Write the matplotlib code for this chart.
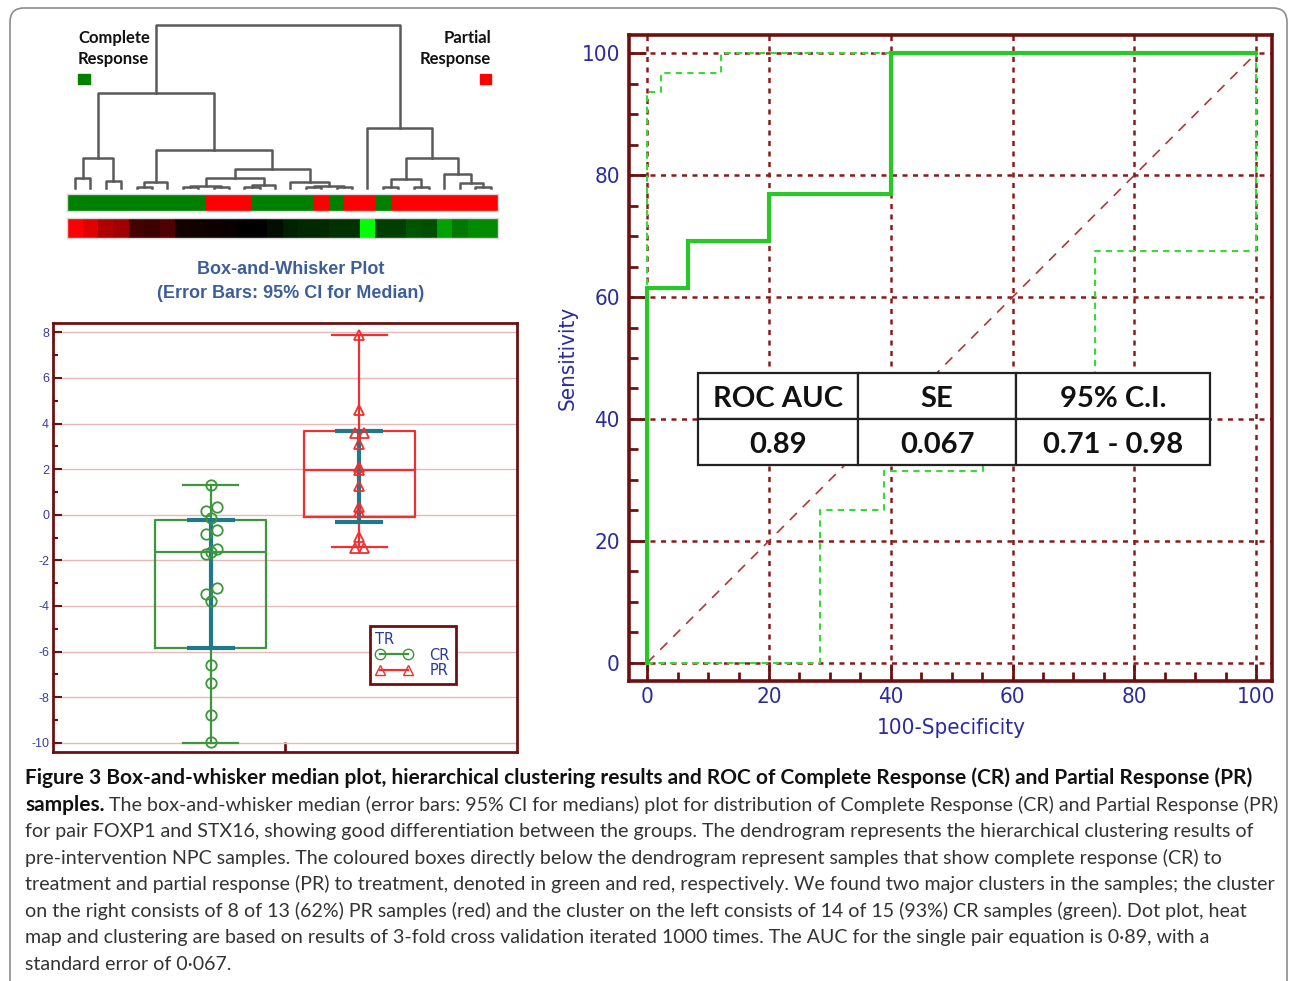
import matplotlib
matplotlib.use("Agg")
import matplotlib.pyplot as plt
import numpy as np
from matplotlib import font_manager
from matplotlib.colors import LinearSegmentedColormap, ListedColormap
from matplotlib.lines import Line2D
from matplotlib.patches import Rectangle, FancyBboxPatch

W, H = 1290, 981
plt.rcParams["axes.unicode_minus"] = False

# ---------------- data ----------------
# dendrogram merges (left, right, height); leaves are 0..27, new nodes from 28 on
merges = [
    (0, 1, 9.3), (2, 3, 6.7), (28, 29, 29.3),
    (4, 5, 1.0), (31, 6, 5.3),
    (7, 8, 0.8), (9, 10, 0.6), (33, 34, 1.5),
    (11, 12, 0.8), (36, 13, 2.3), (35, 37, 9.3),
    (15, 16, 1.0), (17, 18, 0.5), (39, 40, 1.5), (14, 41, 5.3),
    (38, 42, 18.3), (32, 43, 37.7), (30, 44, 94.3),
    (20, 21, 0.5), (22, 23, 1.0), (46, 47, 8.3),
    (26, 27, 0.5), (25, 49, 4.3), (24, 50, 13.3), (48, 51, 30.0),
    (19, 52, 59.3), (45, 53, 162.7),
]
response = ["CR"] * 9 + ["PR"] * 3 + ["CR"] * 4 + ["PR"] + ["CR"] + ["PR"] * 2 + ["CR"] + ["PR"] * 7
heat = [1.0, 0.87, 0.69, 0.63, 0.27, 0.24, 0.31, 0.08, 0.07, 0.06, 0.04, 0.0, 0.0, -0.06,
        -0.13, -0.16, -0.16, -0.19, -0.19, -1.0, -0.25, -0.25, -0.33, -0.31, -0.63, -0.47,
        -0.54, -0.54]

cr_values = [1.3, 0.35, 0.16, -0.13, -0.67, -0.85, -1.52, -1.65, -1.7, -3.23, -3.46, -3.78,
             -6.59, -7.39, -8.78, -9.98]
cr_jitter = [0, 0.04, -0.03, 0, 0.04, -0.03, 0.04, 0, -0.03, 0.04, -0.03, 0, 0, 0, 0, 0]
pr_values = [7.9, 4.6, 3.6, 3.6, 3.09, 2.1, 1.95, 1.27, 0.35, 0.1, -0.99, -1.44, -1.44]
pr_jitter = [0, 0, -0.03, 0.035, 0, 0, 0, 0, 0, 0, 0, -0.03, 0.03]
box_stats = {
    "CR": dict(med=-1.65, q1=-5.85, q3=-0.25, whislo=-10.0, whishi=1.3),
    "PR": dict(med=1.95, q1=-0.08, q3=3.65, whislo=-1.42, whishi=7.9),
}
median_ci = {"CR": (-5.85, -0.25), "PR": (-0.33, 3.69)}

roc_x = [0, 0, 6.67, 6.67, 20, 20, 40, 40, 100]
roc_y = [0, 61.5, 61.5, 69.2, 69.2, 76.9, 76.9, 100, 100]
ci_hi_x = [0, 0, 2.3, 2.3, 12.1, 12.1, 100]
ci_hi_y = [0, 93.7, 93.7, 96.8, 96.8, 100, 100]
ci_lo_x = [0, 28.4, 28.4, 38.8, 38.8, 55.1, 55.1, 66.7, 66.7, 73.5, 73.5, 100, 100]
ci_lo_y = [0, 0, 25.0, 25.0, 31.5, 31.5, 38, 38, 44, 44, 67.6, 67.6, 100]

table_head = ["ROC AUC", "SE", "95% C.I."]
table_vals = ["0.89", "0.067", "0.71 - 0.98"]

caption_bold = "Figure 3 Box-and-whisker median plot, hierarchical clustering results and ROC of Complete Response (CR) and Partial Response (PR)"
caption_lead = "samples."
caption_lines = [
    " The box-and-whisker median (error bars: 95% CI for medians) plot for distribution of Complete Response (CR) and Partial Response (PR)",
    "for pair FOXP1 and STX16, showing good differentiation between the groups. The dendrogram represents the hierarchical clustering results of",
    "pre-intervention NPC samples. The coloured boxes directly below the dendrogram represent samples that show complete response (CR) to",
    "treatment and partial response (PR) to treatment, denoted in green and red, respectively. We found two major clusters in the samples; the cluster",
    "on the right consists of 8 of 13 (62%) PR samples (red) and the cluster on the left consists of 14 of 15 (93%) CR samples (green). Dot plot, heat",
    "map and clustering are based on results of 3-fold cross validation iterated 1000 times. The AUC for the single pair equation is 0\u00b789, with a",
    "standard error of 0\u00b7067.",
]

# ---------------- styles ----------------
GREEN, RED, TEAL = "#3c963c", "#f03030", "#1e7a8a"
DARKRED = "#6e1010"
NAVY = "#2b2b9e"

ttf = font_manager.fontManager.ttflist
names = {f.name for f in ttf}
if "Liberation Sans Narrow" in names:
    narrow = dict(family="Liberation Sans Narrow")
    tick_size, lab_size = 19, 20
elif any(f.name == "DejaVu Sans" and f.stretch == "condensed" for f in ttf):
    narrow = dict(family="DejaVu Sans", stretch="condensed")
    tick_size, lab_size = 16, 16
else:
    narrow = dict(family="DejaVu Sans")
    tick_size, lab_size = 14, 14


def rect(x0, y0, x1, y1):
    return [x0 / W, 1 - y1 / H, (x1 - x0) / W, (y1 - y0) / H]


fig = plt.figure(figsize=(W / 100, H / 100), dpi=100)

# overlay for free text, border and caption (pixel coordinates)
ov = fig.add_axes([0, 0, 1, 1], zorder=0)
ov.set_xlim(0, W)
ov.set_ylim(H, 0)
ov.axis("off")
ov.add_patch(FancyBboxPatch((10, 8), 1277, 1010, boxstyle="round,pad=0,rounding_size=14",
                            fill=False, ec="#8c8c8c", lw=1.2, clip_on=False))

# ---------------- dendrogram ----------------
n = len(response)
axd = fig.add_axes(rect(67.3, 25, 498.3, 187.7), zorder=1)
pos = {i: (i + 0.5, 0.0) for i in range(n)}
for k, (a, b, h) in enumerate(merges):
    xa, ha = pos[a]
    xb, hb = pos[b]
    axd.plot([xa, xa, xb, xb], [ha, h, h, hb], color="#5a5a5a", lw=1.8, clip_on=False)
    pos[n + k] = ((xa + xb) / 2, h)
axd.set_xlim(0, n)
axd.set_ylim(0, 162.7)
axd.axis("off")

axc = fig.add_axes(rect(67.3, 194, 498.3, 211), zorder=1)
codes = np.array([[0 if r == "CR" else 1 for r in response]])
axc.pcolormesh(codes, cmap=ListedColormap(["#008000", "#ff0000"]), vmin=0, vmax=1)
axh = fig.add_axes(rect(67.3, 217.5, 498.3, 237.5), zorder=1)
rg = LinearSegmentedColormap.from_list("rg", ["#00ff00", "#000000", "#ff0000"])
axh.pcolormesh(np.array([heat]), cmap=rg, vmin=-1, vmax=1)
for a_ in (axc, axh):
    a_.set_xticks([])
    a_.set_yticks([])
    for s in a_.spines.values():
        s.set_color("#d8d8d8")
        s.set_linewidth(1)

lab_kw = dict(family="Lato", weight="bold", fontsize=12, va="center", color="#111111")
ov.text(78, 38, "Complete", ha="left", **lab_kw)
ov.text(78, 59, "Response", ha="left", **lab_kw)
ov.text(491, 38, "Partial", ha="right", **lab_kw)
ov.text(491, 59, "Response", ha="right", **lab_kw)
ov.add_patch(Rectangle((78.3, 74), 11.7, 10, color="#008000"))
ov.add_patch(Rectangle((480, 74), 11, 10, color="#ff0000"))

# ---------------- box plot ----------------
ov.text(291, 269, "Box-and-Whisker Plot", family="Liberation Sans", weight="bold",
        fontsize=13, color="#3d5f99", ha="center", va="center")
ov.text(291, 293, "(Error Bars: 95% CI for Median)", family="Liberation Sans", weight="bold",
        fontsize=13, color="#3d5f99", ha="center", va="center")

axb = fig.add_axes(rect(53.3, 322.7, 516.7, 751.7), zorder=1)
groups = [("CR", 1, GREEN, cr_values, cr_jitter, "o"), ("PR", 2, RED, pr_values, pr_jitter, "^")]
for name, xpos, col, vals, jit, mk in groups:
    st = dict(box_stats[name], label=name)
    props = dict(color=col, lw=1.6)
    axb.bxp([st], positions=[xpos], widths=0.75, capwidths=0.37, showfliers=False,
            boxprops=props, whiskerprops=props, capprops=props, medianprops=props)
    lo, hi = median_ci[name]
    med = box_stats[name]["med"]
    axb.errorbar([xpos], [med], yerr=[[med - lo], [hi - med]], fmt="none", ecolor=TEAL,
                 elinewidth=3, capsize=17, capthick=3, zorder=3)
    axb.plot(xpos + np.array(jit), vals, mk, mfc="none", mec=col, ms=7.5, mew=1.3, zorder=4)

axb.set_xlim(-0.06, 3.06)
axb.set_ylim(-10.39, 8.42)
axb.set_yticks(range(-10, 9, 2))
axb.set_yticks(range(-9, 8, 2), minor=True)
axb.set_xticks([1.5])
axb.set_xticklabels([""])
axb.yaxis.grid(True, color="#e6b8b8", lw=1)
axb.set_axisbelow(True)
axb.tick_params(axis="y", which="major", direction="in", length=6.5, width=1.5, color=DARKRED,
                labelsize=9, labelcolor="#3c3c9c", pad=3)
axb.tick_params(axis="y", which="minor", direction="in", length=3.6, width=1.5, color=DARKRED)
axb.tick_params(axis="x", direction="in", length=7, width=2, color=DARKRED)
for lbl in axb.get_yticklabels():
    lbl.set_family("Liberation Sans")
for s in axb.spines.values():
    s.set_color(DARKRED)
    s.set_linewidth(2)

handles = [Line2D([], [], color=GREEN, marker="o", mfc="none", mec=GREEN, ms=7.5, lw=1.6),
           Line2D([], [], color=RED, marker="^", mfc="none", mec=RED, ms=7.5, lw=1.6)]
leg = axb.legend(handles, ["CR", "PR"], title="TR", numpoints=2, loc="upper left",
                 bbox_to_anchor=(2.07, -4.88), bbox_transform=axb.transData,
                 fancybox=False, framealpha=1, edgecolor=DARKRED, fontsize=10.5,
                 title_fontsize=10.5, labelcolor="#2a3a9a", alignment="left",
                 handlelength=2.5, handletextpad=1.2, borderpad=0.4, labelspacing=0.05,
                 borderaxespad=0)
leg.get_frame().set_linewidth(2)
leg.get_title().set_color("#2a3a9a")

# ---------------- ROC ----------------
axr = fig.add_axes(rect(629, 35, 1272, 681), zorder=1)
axr.set_xlim(-3, 102.6)
axr.set_ylim(-3, 103)
for g in range(0, 101, 20):
    axr.axvline(g, color="#8b1a1a", lw=1.8, ls=(0, (2, 2.2)), zorder=1)
    axr.axhline(g, color="#8b1a1a", lw=1.8, ls=(0, (2, 2.2)), zorder=1)
axr.plot([0, 100], [0, 100], color="#a83a3a", lw=1.2, ls=(0, (6, 5)), zorder=2)
axr.plot(ci_lo_x, ci_lo_y, color="#33dd33", lw=1.5, ls=(0, (3, 2.5)), zorder=3)
axr.plot(ci_hi_x, ci_hi_y, color="#33dd33", lw=1.5, ls=(0, (3, 2.5)), zorder=3)
axr.plot(roc_x, roc_y, color="#28c828", lw=3, zorder=4, solid_joinstyle="miter")

axr.set_xticks(range(0, 101, 20))
axr.set_yticks(range(0, 101, 20))
axr.set_xticks(range(0, 101, 5), minor=True)
axr.set_yticks(range(0, 101, 5), minor=True)
axr.tick_params(which="major", direction="in", length=12, width=2, color=DARKRED,
                labelcolor=NAVY)
axr.tick_params(which="minor", direction="in", length=6.5, width=2, color=DARKRED)
axr.tick_params(axis="y", pad=6.5)
axr.tick_params(axis="x", pad=4)
for lbl in axr.get_xticklabels() + axr.get_yticklabels():
    lbl.set(**narrow, fontsize=tick_size)
for s in axr.spines.values():
    s.set_color(DARKRED)
    s.set_linewidth(2.6)

axr.set_ylabel("Sensitivity", color=NAVY, fontsize=lab_size, **narrow)
axr.set_xlabel("100-Specificity", color=NAVY, fontsize=lab_size, **narrow)
axr.yaxis.set_label_coords(-0.095, 0.5)
axr.xaxis.set_label_coords(0.502, -0.073)
axr.yaxis.label.set_va("center")
axr.xaxis.label.set_va("center")

col_edges = [8.3, 34.6, 60.6, 92.4]
row_edges = [47.6, 40.0, 32.5]
for r_i, row in enumerate([table_head, table_vals]):
    for c_i, txt in enumerate(row):
        x0, x1 = col_edges[c_i], col_edges[c_i + 1]
        y1, y0 = row_edges[r_i], row_edges[r_i + 1]
        axr.add_patch(Rectangle((x0, y0), x1 - x0, y1 - y0, fc="white", ec="#222222",
                                lw=1.6, zorder=6))
        axr.text((x0 + x1) / 2, (y0 + y1) / 2 - 0.6, txt, ha="center", va="center", zorder=7,
                 family="Lato", weight="bold", fontsize=21, color="#111111")

# ---------------- caption ----------------
fig.canvas.draw()
rend = fig.canvas.get_renderer()

t_bold = ov.text(25, 778, caption_bold, family="Lato", weight="bold", fontsize=13,
                 color="#111111", ha="left", va="center")
bb = t_bold.get_window_extent(rend)
bold_size = 13 * 1225 / bb.width
t_bold.set_fontsize(bold_size)

probe = ov.text(25, 884, caption_lines[3], family="Lato", fontsize=13, ha="left", va="center")
bb = probe.get_window_extent(rend)
reg_size = 13 * 1250 / bb.width
probe.remove()

t_lead = ov.text(25, 805, caption_lead, family="Lato", weight="bold", fontsize=bold_size,
                 color="#111111", ha="left", va="center")
ov.annotate(caption_lines[0], xy=(1, 0.5), xycoords=t_lead, ha="left", va="center",
            family="Lato", fontsize=reg_size, color="#333333")
for i, line in enumerate(caption_lines[1:]):
    ov.text(25, 831 + i * 26.7, line, family="Lato", fontsize=reg_size, color="#333333",
            ha="left", va="center")

fig.savefig("out.png", dpi=100)
